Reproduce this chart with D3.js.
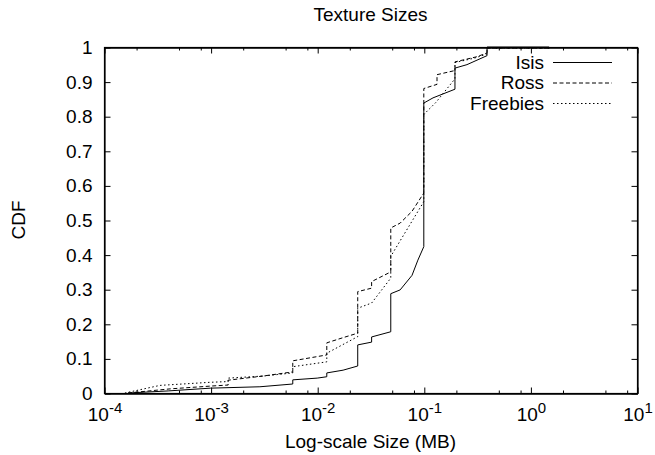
<!DOCTYPE html>
<html>
<head>
<meta charset="utf-8">
<script src="https://cdn.jsdelivr.net/npm/d3@7"></script>
<style>
  body { margin: 0; background: #fff; }
  svg { font-family: "Liberation Sans", Arial, Helvetica, sans-serif; }
</style>
</head>
<body>
<svg id="chart"></svg>
<script>
// [size in MB, cumulative fraction]
let isis = [
  [1.68e-4, 0], [4e-4, 0.006], [1e-3, 0.014], [2.9e-3, 0.018], [5.9e-3, 0.026], [5.9e-3, 0.038],
  [1e-2, 0.043], [1.23e-2, 0.047], [1.23e-2, 0.058], [1.75e-2, 0.066], [2.4e-2, 0.078], [2.4e-2, 0.139],
  [3.24e-2, 0.147], [3.24e-2, 0.162], [4.9e-2, 0.177], [4.9e-2, 0.287], [6e-2, 0.298], [7.75e-2, 0.34],
  [8.8e-2, 0.384], [0.1, 0.423], [0.1, 0.838], [0.122, 0.853], [0.196, 0.878], [0.196, 0.939],
  [0.254, 0.949], [0.392, 0.975], [0.392, 1], [1.5, 1]
];
let ross = [
  [1.68e-4, 0], [4.2e-4, 0.012], [1e-3, 0.02], [1.46e-3, 0.023], [1.46e-3, 0.037], [3.1e-3, 0.049],
  [5.9e-3, 0.061], [5.9e-3, 0.093], [1.23e-2, 0.11], [1.23e-2, 0.145], [1.75e-2, 0.16], [2.4e-2, 0.173],
  [2.4e-2, 0.293], [3.24e-2, 0.303], [3.24e-2, 0.322], [4.9e-2, 0.35], [4.9e-2, 0.477], [6e-2, 0.491],
  [7.75e-2, 0.525], [0.1, 0.578], [0.1, 0.88], [0.133, 0.892], [0.133, 0.92], [0.196, 0.932],
  [0.196, 0.957], [0.316, 0.972], [0.392, 0.983], [0.392, 0.997], [1.53, 0.997], [1.53, 1]
];
let freebies = [
  [1.57e-4, 0], [3.35e-4, 0.022], [1e-3, 0.031], [1.46e-3, 0.033], [1.46e-3, 0.043], [3.1e-3, 0.049],
  [5.9e-3, 0.058], [5.9e-3, 0.076], [1.23e-2, 0.09], [1.23e-2, 0.115], [2.4e-2, 0.163], [2.4e-2, 0.245],
  [3.24e-2, 0.26], [4.9e-2, 0.332], [4.9e-2, 0.395], [0.1, 0.553], [0.1, 0.805], [0.13, 0.84],
  [0.196, 0.908], [0.196, 0.955], [0.3, 0.968], [0.392, 0.98], [0.392, 0.997], [1.53, 0.997], [1.53, 1]
];

let seriesNames = ["Isis", "Ross", "Freebies"];
let xMajorTicks = [1e-4, 1e-3, 1e-2, 1e-1, 1, 10];
let xTickExponents = ["-4", "-3", "-2", "-1", "0", "1"];
let yTicks = [0, 0.1, 0.2, 0.3, 0.4, 0.5, 0.6, 0.7, 0.8, 0.9, 1];
let yTickLabels = ["0", "0.1", "0.2", "0.3", "0.4", "0.5", "0.6", "0.7", "0.8", "0.9", "1"];
let chartTitle = "Texture Sizes";
let xLabel = "Log-scale Size (MB)";
let yLabel = "CDF";

let store = {};

function getConfig() {
  let width = 655;
  let height = 455;
  let margin = { top: 47, bottom: 62, left: 104, right: 18 };
  let bodyWidth = width - margin.left - margin.right;
  let bodyHeight = height - margin.top - margin.bottom;
  let container = d3.select("#chart")
    .attr("width", width)
    .attr("height", height);
  let dashes = ["none", "4,2.5", "1.5,2.5"];
  return { width, height, margin, bodyWidth, bodyHeight, container, dashes };
}

function getScales(config) {
  let { bodyWidth, bodyHeight } = config;
  let xScale = d3.scaleLog().domain([1e-4, 10]).range([0, bodyWidth]);
  let yScale = d3.scaleLinear().domain([0, 1]).range([bodyHeight, 0]);
  return { xScale, yScale };
}

function drawAxes(scales, config) {
  let { xScale, yScale } = scales;
  let { container, margin, bodyWidth, bodyHeight } = config;

  let body = container.append("g")
    .attr("transform", `translate(${margin.left + 0.5},${margin.top + 0.5})`);

  // minor ticks at 2, 5, 8 within each decade
  let minorTicks = [];
  xMajorTicks.slice(0, -1).forEach(d => [2, 5, 8].forEach(m => minorTicks.push(d * m)));

  let gMinorB = body.append("g").attr("transform", `translate(0,${bodyHeight})`)
    .call(d3.axisBottom(xScale).tickValues(minorTicks).tickSize(-3).tickSizeOuter(0).tickFormat(""));
  let gMinorT = body.append("g")
    .call(d3.axisTop(xScale).tickValues(minorTicks).tickSize(-3).tickSizeOuter(0).tickFormat(""));

  let gX = body.append("g").attr("transform", `translate(0,${bodyHeight})`)
    .call(d3.axisBottom(xScale).tickValues(xMajorTicks).tickSize(-6).tickSizeOuter(0));
  gX.selectAll(".tick text").each(function(d, i) {
    let t = d3.select(this).text(null).attr("y", 27).attr("dy", null)
      .attr("font-size", 19).attr("fill", "#000");
    t.append("tspan").text("10");
    t.append("tspan").attr("dy", -8).attr("font-size", 15).text(xTickExponents[i]);
  });

  let gXT = body.append("g")
    .call(d3.axisTop(xScale).tickValues(xMajorTicks).tickSize(-6).tickSizeOuter(0).tickFormat(""));

  let gY = body.append("g")
    .call(d3.axisLeft(yScale).tickValues(yTicks).tickSize(-6).tickSizeOuter(0).tickPadding(12)
      .tickFormat((d, i) => yTickLabels[i]));
  gY.selectAll(".tick text").attr("font-size", 19).attr("fill", "#000");

  let gYR = body.append("g").attr("transform", `translate(${bodyWidth},0)`)
    .call(d3.axisRight(yScale).tickValues(yTicks).tickSize(-6).tickSizeOuter(0).tickFormat(""));

  body.selectAll(".domain").attr("stroke", "#000").attr("stroke-width", 1.2);
  body.selectAll(".tick line").attr("stroke", "#000");

  body.append("rect")
    .attr("width", bodyWidth)
    .attr("height", bodyHeight)
    .attr("fill", "none")
    .attr("stroke", "#000")
    .attr("stroke-width", 1.2);

  return { body };
}

function drawLines(scales, config) {
  let { xScale, yScale } = scales;
  let { container, margin, dashes } = config;

  let body = container.append("g")
    .attr("transform", `translate(${margin.left},${margin.top})`);

  let line = d3.line()
    .x(d => xScale(d[0]))
    .y(d => yScale(d[1]));

  let series = [isis, ross, freebies];
  body.selectAll(".series")
    .data(series)
    .enter()
    .append("path")
    .attr("class", "series")
    .attr("d", line)
    .attr("fill", "none")
    .attr("stroke", "#000")
    .attr("stroke-width", 1)
    .attr("stroke-dasharray", (d, i) => dashes[i]);

  return { body };
}

function drawLegend(config) {
  let { container, dashes } = config;
  let legend = container.append("g").attr("transform", "translate(0,62)");

  let rows = legend.selectAll(".row")
    .data(seriesNames)
    .enter()
    .append("g")
    .attr("transform", (d, i) => `translate(0,${i * 20.5})`);

  rows.append("text")
    .attr("x", 544)
    .attr("dy", "0.35em")
    .attr("text-anchor", "end")
    .attr("font-size", 19)
    .text(d => d);

  rows.append("line")
    .attr("x1", 553)
    .attr("x2", 612)
    .attr("y1", 0.5)
    .attr("y2", 0.5)
    .attr("stroke", "#000")
    .attr("stroke-dasharray", (d, i) => dashes[i]);
}

function drawLabels(config) {
  let { container, margin, bodyWidth, bodyHeight } = config;
  let cx = margin.left + bodyWidth / 2;

  container.append("text")
    .attr("x", cx)
    .attr("y", 21)
    .attr("text-anchor", "middle")
    .attr("font-size", 19)
    .text(chartTitle);

  container.append("text")
    .attr("x", cx)
    .attr("y", 448)
    .attr("text-anchor", "middle")
    .attr("font-size", 19)
    .text(xLabel);

  container.append("text")
    .attr("transform", `translate(25,${margin.top + bodyHeight / 2}) rotate(-90)`)
    .attr("text-anchor", "middle")
    .attr("font-size", 19)
    .text(yLabel);
}

function showChart() {
  store.config = getConfig();
  store.scales = getScales(store.config);
  store.axes = drawAxes(store.scales, store.config);
  store.lines = drawLines(store.scales, store.config);
  drawLegend(store.config);
  drawLabels(store.config);
}

showChart();
</script>
</body>
</html>
